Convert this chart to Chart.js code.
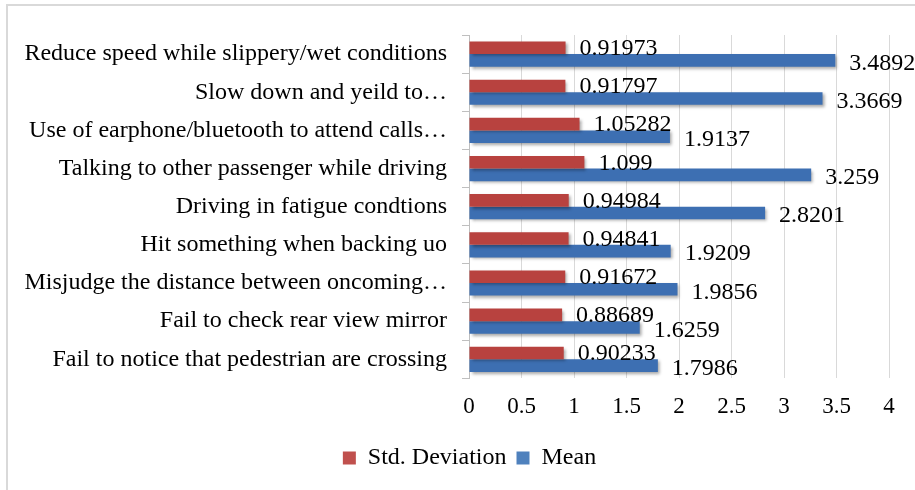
<!DOCTYPE html>
<html>
<head>
<meta charset="utf-8">
<script src="https://cdn.jsdelivr.net/npm/chart.js@4.4.0/dist/chart.umd.min.js"></script>
<style>
  html, body { margin: 0; padding: 0; background: #fff; }
  #wrap { width: 915px; height: 490px; position: relative; }
</style>
</head>
<body>
<div id="wrap"><canvas id="c" width="915" height="490"></canvas></div>
<script>
const categories = [
  "Reduce speed while slippery/wet conditions",
  "Slow down and yeild to\u2026",
  "Use of earphone/bluetooth to attend calls\u2026",
  "Talking to other passenger while driving",
  "Driving in fatigue condtions",
  "Hit something when backing uo",
  "Misjudge the distance between oncoming\u2026",
  "Fail to check rear view mirror",
  "Fail to notice that pedestrian are crossing"
];
const stdDeviation = [0.91973, 0.91797, 1.05282, 1.099, 0.94984, 0.94841, 0.91672, 0.88689, 0.90233];
const meanValues = [3.4892, 3.3669, 1.9137, 3.259, 2.8201, 1.9209, 1.9856, 1.6259, 1.7986];
const stdLabels = ["0.91973", "0.91797", "1.05282", "1.099", "0.94984", "0.94841", "0.91672", "0.88689", "0.90233"];
const meanLabels = ["3.4892", "3.3669", "1.9137", "3.259", "2.8201", "1.9209", "1.9856", "1.6259", "1.7986"];
const xTicks = [0, 0.5, 1, 1.5, 2, 2.5, 3, 3.5, 4];

const FONT = "'Liberation Serif', 'Times New Roman', serif";

function grad(ctx, c1, c2) {
  const chart = ctx.chart;
  const el = ctx.element;
  if (!el || !chart.chartArea) return c2;
  const y0 = el.y - el.height / 2, y1 = el.y + el.height / 2;
  if (!isFinite(y0) || !isFinite(y1) || y0 === y1) return c2;
  const g = chart.ctx.createLinearGradient(0, y0, 0, y1);
  g.addColorStop(0, c1);
  g.addColorStop(1, c2);
  return g;
}

const shadowPlugin = {
  id: 'shadow',
  beforeDatasetsDraw(chart) {
    const c = chart.ctx;
    c.save();
    c.shadowColor = 'rgba(0,0,0,0.35)';
    c.shadowBlur = 3;
    c.shadowOffsetX = 2;
    c.shadowOffsetY = 2;
  },
  afterDatasetsDraw(chart) {
    chart.ctx.restore();
  }
};

const legendShift = {
  id: 'legendShift',
  afterLayout(chart) {
    if (chart.legend) {
      chart.legend.left += 20;
      chart.legend.right += 20;
    }
  }
};

const labelPlugin = {
  id: 'valueLabels',
  afterDraw(chart) {
    const c = chart.ctx;
    c.save();
    c.font = "24px " + FONT;
    c.fillStyle = '#000';
    c.textAlign = 'left';
    c.textBaseline = 'middle';
    const sets = [stdLabels, meanLabels];
    const dy = [1, 3];
    chart.data.datasets.forEach((ds, di) => {
      const meta = chart.getDatasetMeta(di);
      meta.data.forEach((bar, i) => {
        c.fillText(sets[di][i], bar.x + 14, bar.y + dy[di]);
      });
    });
    c.restore();
  }
};

const borderPlugin = {
  id: 'outerBorder',
  afterDraw(chart) {
    const c = chart.ctx;
    c.save();
    c.strokeStyle = '#d9d9d9';
    c.lineWidth = 2;
    c.beginPath();
    c.moveTo(7, 490);
    c.lineTo(7, 5);
    c.lineTo(915, 5);
    c.stroke();
    c.restore();
  }
};

new Chart(document.getElementById('c'), {
  type: 'bar',
  data: {
    labels: categories,
    datasets: [
      {
        label: 'Std. Deviation',
        data: stdDeviation,
        backgroundColor: (ctx) => grad(ctx, '#d46a67', '#b8423f'),
        borderWidth: 0,
        categoryPercentage: 0.66,
        barPercentage: 1.0
      },
      {
        label: 'Mean',
        data: meanValues,
        backgroundColor: (ctx) => grad(ctx, '#5d8fd0', '#3d6fb2'),
        borderWidth: 0,
        categoryPercentage: 0.66,
        barPercentage: 1.0
      }
    ]
  },
  options: {
    indexAxis: 'y',
    responsive: false,
    animation: false,
    devicePixelRatio: 1,
    layout: { padding: { left: 10, right: 26, top: 35, bottom: 10 } },
    scales: {
      x: {
        type: 'linear',
        min: 0,
        max: 4,
        afterBuildTicks(scale) { scale.ticks = xTicks.map(v => ({ value: v })); },
        grid: { color: '#d9d9d9', lineWidth: 1, drawTicks: false },
        border: { display: false },
        ticks: {
          color: '#000',
          font: { family: FONT, size: 23 },
          padding: 15,
          maxRotation: 0,
          callback: (v) => String(v)
        }
      },
      y: {
        type: 'category',
        offset: true,
        afterFit(scale) { scale.width = 459; },
        grid: {
          offset: true,
          drawOnChartArea: false,
          drawTicks: true,
          tickLength: 7,
          color: '#bfbfbf'
        },
        border: { display: true, color: '#bfbfbf', width: 1 },
        ticks: {
          color: '#000',
          font: { family: FONT, size: 24 },
          padding: 15,
          autoSkip: false
        }
      }
    },
    plugins: {
      legend: {
        position: 'bottom',
        labels: {
          color: '#000',
          font: { family: FONT, size: 24 },
          boxWidth: 13,
          boxHeight: 13,
          padding: 10,
          generateLabels(chart) {
            const cols = ['#c0504d', '#4f81bd'];
            return chart.data.datasets.map((ds, i) => ({
              text: ds.label,
              fillStyle: cols[i],
              strokeStyle: cols[i],
              lineWidth: 0,
              hidden: false,
              datasetIndex: i,
              fontColor: '#000'
            }));
          }
        }
      },
      tooltip: { enabled: false }
    }
  },
  plugins: [shadowPlugin, legendShift, labelPlugin, borderPlugin]
});
</script>
</body>
</html>
